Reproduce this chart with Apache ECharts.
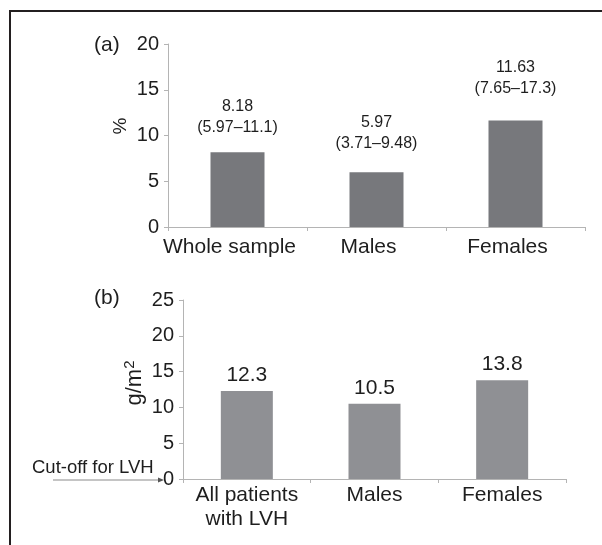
<!DOCTYPE html>
<html>
<head>
<meta charset="utf-8">
<script src="https://cdn.jsdelivr.net/npm/echarts@6/dist/echarts.min.js"></script>
<style>
html,body{margin:0;padding:0;background:#fff;}
#chart{width:602px;height:545px;}
</style>
</head>
<body>
<div id="chart"></div>
<script>
// Panel (a): prevalence (%)
const categoriesA = ['Whole sample', 'Males', 'Females'];
const valuesA = [8.18, 5.97, 11.63];
const intervalsA = ['5.97–11.1', '3.71–9.48', '7.65–17.3'];
const ticksA = [0, 5, 10, 15, 20];

// Panel (b): g/m2 above cut-off
const categoriesB = ['All patients\nwith LVH', 'Males', 'Females'];
const valuesB = [12.3, 10.5, 13.8];
const ticksB = [0, 5, 10, 15, 20, 25];

const FONT = '"Liberation Sans", Arial, Helvetica, sans-serif';
const TXT = '#1e1e1e';
const labelGapA = [14, 18, 21];

const chart = echarts.init(document.getElementById('chart'), null, {renderer: 'canvas'});

function yAxisCfg(grid, ticks) {
  return {
    type: 'value', gridIndex: grid,
    min: ticks[0], max: ticks[ticks.length - 1], interval: ticks[1] - ticks[0],
    splitLine: {show: false},
    axisLine: {show: true, lineStyle: {color: '#b4b4b4', width: 1}},
    axisTick: {show: true, length: 4, lineStyle: {color: '#b4b4b4'}},
    axisLabel: {color: TXT, fontSize: 20, fontFamily: FONT, margin: 9}
  };
}
function xAxisCfg(grid, cats, margin, pad) {
  return {
    type: 'category', gridIndex: grid, data: cats,
    axisLine: {show: true, lineStyle: {color: '#b4b4b4', width: 1}},
    axisTick: {show: true, length: 4, lineStyle: {color: '#b4b4b4'}},
    axisLabel: {color: TXT, fontSize: 21, fontFamily: FONT, margin: margin, lineHeight: 24, interval: 0, padding: pad}
  };
}

const option = {
  animation: false,
  backgroundColor: '#fff',
  grid: [
    {left: 168, top: 44, width: 417, height: 183},
    {left: 183, top: 300, width: 383, height: 179}
  ],
  xAxis: [xAxisCfg(0, categoriesA, 8, [0, 16, 0, 0]), xAxisCfg(1, categoriesB, 4, [0, 0, 0, 0])],
  yAxis: [yAxisCfg(0, ticksA), yAxisCfg(1, ticksB)],
  series: [
    {
      type: 'bar', xAxisIndex: 0, yAxisIndex: 0,
      barWidth: 54,
      itemStyle: {color: '#77787c'},
      data: valuesA.map((v, i) => ({
        value: v,
        label: {distance: labelGapA[i]}
      })),
      label: {
        show: true, position: 'top', color: TXT, fontSize: 16, fontFamily: FONT, lineHeight: 21,
        formatter: p => String(p.value) + '\n(' + intervalsA[p.dataIndex] + ')'
      }
    },
    {
      type: 'bar', xAxisIndex: 1, yAxisIndex: 1,
      barWidth: 52,
      itemStyle: {color: '#8f9094'},
      data: valuesB,
      label: {
        show: true, position: 'top', distance: 5, color: TXT, fontSize: 21, fontFamily: FONT,
        formatter: p => p.value.toFixed(1)
      }
    }
  ],
  graphic: [
    {type: 'polyline', shape: {points: [[10, 545], [10, 11], [602, 11]]}, style: {stroke: '#231f20', lineWidth: 2, fill: null}, z: 10},
    {type: 'text', left: 94, top: 35, style: {text: '(a)', fill: TXT, fontSize: 21, fontFamily: FONT}},
    {type: 'text', left: 94, top: 288, style: {text: '(b)', fill: TXT, fontSize: 21, fontFamily: FONT}},
    {type: 'text', x: 121, y: 126, rotation: Math.PI / 2, style: {text: '%', fill: TXT, fontSize: 19, fontFamily: FONT, align: 'center', verticalAlign: 'middle'}},
    {type: 'text', x: 135, y: 383, rotation: Math.PI / 2, style: {rich: {n: {fontSize: 22, fontFamily: FONT, fill: TXT}, s: {fontSize: 15, fontFamily: FONT, fill: TXT, verticalAlign: 'top', padding: [0,0,10,0]}}, text: '{n|g/m}{s|2}', align: 'center', verticalAlign: 'middle'}},
    {type: 'text', left: 32, top: 458, style: {text: 'Cut-off for LVH', fill: TXT, fontSize: 18.5, fontFamily: FONT}},
    {type: 'line', shape: {x1: 53, y1: 480, x2: 160, y2: 480}, style: {stroke: '#8a8a8a', lineWidth: 1}},
    {type: 'polygon', shape: {points: [[164, 480], [158, 477.5], [158, 482.5]]}, style: {fill: '#555'}}
  ]
};
chart.setOption(option);
</script>
</body>
</html>
